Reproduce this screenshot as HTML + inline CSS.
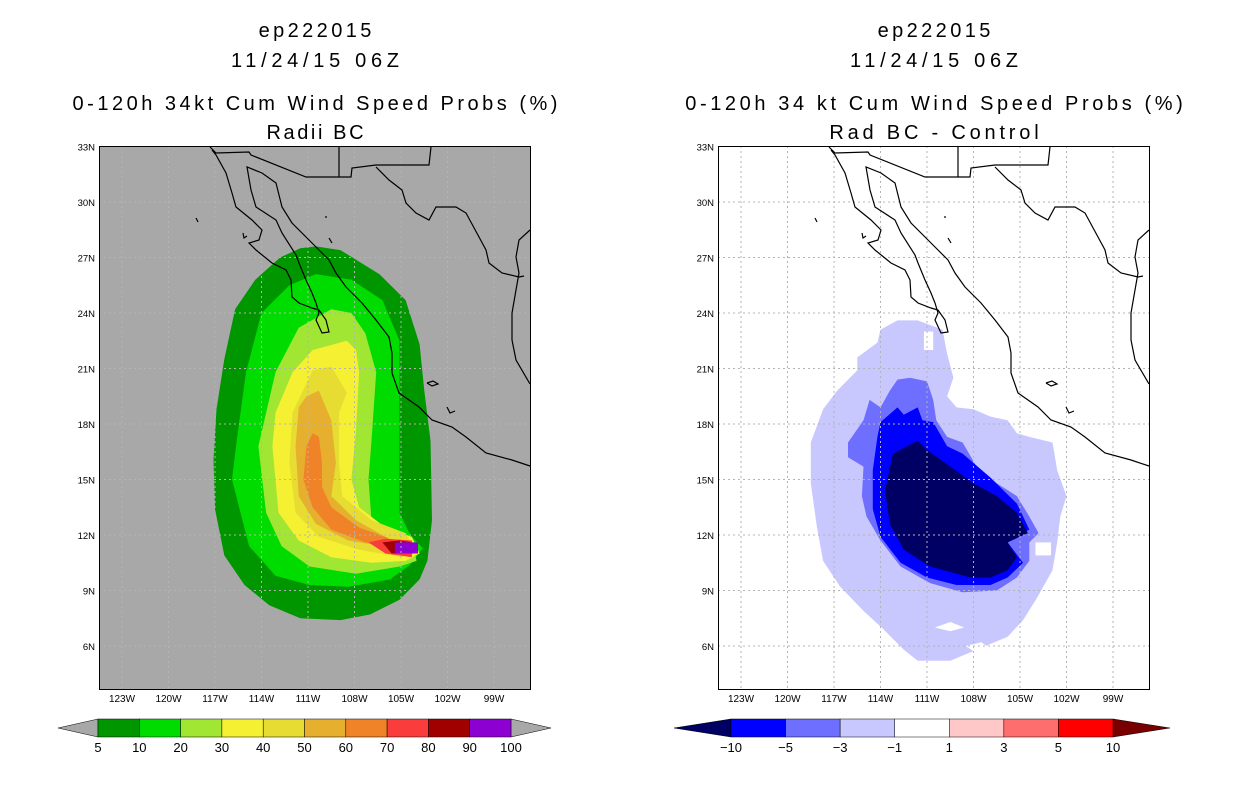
<!DOCTYPE html>
<html><head><meta charset="utf-8"><style>
body{margin:0;background:#fff;}
svg{display:block;font-family:"Liberation Sans",sans-serif;}
</style></head><body>
<svg id="c" width="1236" height="800" viewBox="0 0 1236 800" xmlns="http://www.w3.org/2000/svg"></svg>
<script>
// ---- data (lon in degrees W, lat in degrees N) ----
const lonTicks=[123,120,117,114,111,108,105,102,99];
const latTicks=[33,30,27,24,21,18,15,12,9,6];
const leftLevels=["5","10","20","30","40","50","60","70","80","90","100"];
const leftColors=["#009600","#00dc00","#a0e632","#f5f032","#e6dc32","#e6af2d","#f08228","#fa3c3c","#a00000","#8c00d2"];
const rightLevels=["-10","-5","-3","-1","1","3","5","10"];
const rightColors=["#000064","#0000ff","#6e6eff","#c8c8ff","#ffffff","#ffc8c8","#ff6e6e","#ff0000","#780000"];
const p05=[[110.5,27.6],[108.9,27.4],[106.4,26.1],[104.7,24.7],[103.8,22.3],[103.5,19.8],[103.1,17.1],[103.0,12.8],[103.3,10.6],[103.8,9.6],[105.1,8.5],[107.0,7.7],[108.9,7.4],[111.5,7.5],[113.5,8.2],[115.1,9.3],[116.4,10.9],[117.0,13.4],[117.1,16.1],[116.9,18.8],[116.4,21.5],[115.7,24.2],[114.4,25.8],[112.8,27.0],[111.5,27.5]];
const p10=[[110.5,26.1],[108.2,25.8],[106.2,24.7],[105.1,22.5],[105.1,16.8],[105.1,13.2],[104.4,12.0],[103.6,11.3],[104.4,10.4],[105.7,9.6],[108.4,9.2],[110.9,9.3],[113.1,9.8],[114.8,11.4],[115.9,15.0],[115.6,17.1],[115.0,20.8],[114.0,24.0],[112.2,25.5]];
const p20=[[109.5,24.2],[108.2,24.0],[107.3,22.9],[106.6,20.8],[106.9,17.1],[107.1,15.0],[106.9,12.8],[105.7,12.3],[104.3,11.9],[104.0,10.6],[105.1,10.3],[107.9,9.9],[110.9,10.3],[112.7,11.4],[113.7,13.2],[114.2,16.8],[113.1,20.8],[111.6,23.2]];
const p30=[[108.5,22.5],[107.9,22.0],[107.7,20.8],[107.9,17.7],[108.2,15.0],[107.7,13.5],[106.0,12.4],[104.3,11.9],[103.8,11.0],[104.7,10.6],[106.9,10.5],[109.5,10.8],[111.6,11.7],[112.9,13.2],[113.3,16.8],[113.1,18.6],[112.0,20.8],[110.7,22.0]];
const p40=[[109.5,21.1],[108.5,19.7],[109.0,18.6],[109.0,15.9],[108.8,14.1],[106.9,12.8],[104.7,12.1],[104.3,11.5],[104.9,10.8],[107.7,11.2],[110.3,11.9],[111.8,13.2],[112.2,15.9],[112.0,18.6],[110.7,20.9]];
const p50=[[110.3,19.8],[109.5,18.2],[109.2,15.9],[109.5,14.1],[107.9,12.8],[106.0,11.9],[104.7,11.5],[106.2,11.4],[108.4,11.7],[110.5,12.6],[111.6,14.1],[111.8,16.8],[111.6,18.9],[111.1,19.5]];
const p60=[[110.7,17.5],[110.3,17.3],[110.1,15.9],[110.1,14.6],[109.5,13.5],[107.7,12.4],[106.0,11.9],[105.1,11.4],[107.3,11.6],[109.5,12.3],[110.7,13.5],[111.3,15.0],[111.1,16.8]];
const p70=[[107.1,11.6],[106.0,11.8],[104.3,11.7],[104.3,10.8],[106.0,11.0]];
const p80=[[106.2,11.6],[105.1,11.7],[104.3,11.6],[104.3,11.0],[105.6,11.0]];
const p90=[[105.4,11.6],[103.9,11.6],[103.9,11.0],[105.4,11.0]];
const d1=[[112.9,23.6],[111.6,23.6],[110.0,23.1],[109.7,21.8],[109.3,20.5],[109.7,19.5],[109.1,18.9],[108.0,18.8],[106.9,18.4],[105.8,18.2],[105.2,17.5],[104.4,17.3],[102.9,17.0],[102.6,15.5],[102.0,14.1],[102.4,13.0],[102.6,11.6],[102.9,10.1],[103.9,8.6],[104.8,7.4],[105.8,6.5],[107.8,5.8],[109.5,5.2],[111.6,5.2],[112.5,5.8],[113.8,6.9],[115.1,7.9],[116.6,9.2],[117.7,10.6],[118.1,12.4],[118.5,14.8],[118.5,17.0],[117.7,18.8],[116.8,19.8],[115.5,20.9],[115.5,21.6],[114.2,22.4],[114.0,23.1]];
const d3=[[112.9,20.4],[112.1,20.5],[111.0,20.3],[110.6,19.3],[110.4,18.2],[109.7,17.3],[108.7,17.0],[107.8,15.7],[106.5,14.8],[105.2,14.1],[104.4,13.0],[103.8,12.1],[104.4,11.6],[104.4,10.6],[105.2,9.7],[106.5,9.0],[108.7,8.9],[110.8,9.4],[112.7,10.3],[114.0,11.7],[114.9,13.0],[115.2,14.1],[115.1,15.7],[116.1,16.2],[116.1,17.0],[115.1,18.2],[114.7,19.3],[114.0,18.9],[113.4,19.8]];
const d5=[[114.0,18.1],[112.9,18.9],[112.5,18.5],[111.6,18.9],[111.3,18.2],[110.6,18.1],[109.7,16.8],[108.7,16.4],[106.9,15.1],[105.2,13.7],[104.4,12.3],[105.8,11.6],[104.8,10.5],[105.8,9.7],[106.9,9.3],[109.1,9.3],[111.0,9.7],[112.7,10.5],[114.0,11.9],[114.5,13.4],[114.5,15.5],[114.2,17.3]];
const d10=[[113.2,16.4],[111.6,17.1],[111.0,16.6],[109.5,15.7],[108.0,14.8],[106.5,14.1],[105.2,13.2],[104.5,12.1],[105.8,11.6],[105.2,10.8],[105.8,10.1],[106.9,9.7],[108.2,9.7],[110.8,10.3],[112.5,11.2],[113.4,12.6],[113.7,14.4]];
const holes=[[[104.0,11.6],[103.0,11.6],[103.0,10.9],[104.0,10.9]],[[111.2,23.0],[110.6,23.0],[110.6,22.0],[111.2,22.0]],[[110.5,7.0],[109.5,7.3],[108.6,7.0],[109.5,6.8]],[[108.5,6.0],[107.5,6.2],[106.8,5.8],[107.8,5.6]]];
// coastlines (pixel polylines in left-panel space; shifted for right panel)
const coasts=[
[[212,150],[216,155],[226,173],[232,193],[236,207],[252,220],[262,230],[259,240],[249,243],[256,250],[272,263],[286,270],[291,280],[292,297],[299,303],[312,308],[319,310],[326,320],[329,332],[322,333],[316,320],[319,313],[316,303],[312,293],[306,280],[299,263],[296,255],[282,233],[276,220],[256,207],[251,190],[247,167],[262,173],[276,183],[282,207],[292,223],[309,240],[316,247],[329,260],[336,273],[346,287],[362,303],[376,320],[389,337],[392,353],[392,373],[399,393],[419,407],[432,420],[452,427],[466,437],[486,453],[512,460],[530,466]],
[[530,230],[519,240],[516,257],[519,273],[516,290],[512,313],[512,340],[516,360],[530,384]],
[[376,167],[389,180],[402,190],[406,203],[416,213],[429,220],[436,207],[456,207],[466,213],[479,237],[486,250],[489,263],[502,273],[519,277],[524,276]],
[[210,147],[216,153],[249,152],[251,155],[306,177],[351,177],[352,168],[376,165],[429,165],[431,147]],
[[339,147],[339,177]],
[[427,383],[433,381],[438,384],[432,386],[427,383]],
[[447,407],[450,413],[455,411]],[[196,218],[198,222]],[[243,233],[244,238],[247,236]],[[329,238],[332,243]],[[325,217],[327,217]]];

const NS="http://www.w3.org/2000/svg";
const svg=document.getElementById('c');
function el(tag,attrs,parent){const e=document.createElementNS(NS,tag);for(const k in attrs)e.setAttribute(k,attrs[k]);(parent||svg).appendChild(e);return e;}
const X0=99,X1=531,Y0=146,Y1=690;
function lonX(lon,off){return 308-(lon-111)*15.5+off;}
function latY(lat){return 313-(lat-24)*18.5;}
function poly(pts,off){return pts.map(p=>lonX(p[0],off).toFixed(1)+","+latY(p[1]).toFixed(1)).join(" ");}

function panel(off,bg,title3,title4,key,spacing){
  const g=el('g',{});
  
  
  const cx=(X0+X1)/2+off;
  const titles=["ep222015","11/24/15 06Z",title3,title4];
  const ty=[37,67,110,139];
  titles.forEach((t,i)=>{
    const tx=el('text',{x:cx+spacing[i]/2,y:ty[i],'text-anchor':'middle','font-size':20,'letter-spacing':spacing[i],fill:'#000'},g);
    tx.textContent=t;
    
    
  });
  const clipId='clip'+key;
  const cp=el('clipPath',{id:clipId},g);
  el('rect',{x:X0+off,y:Y0,width:X1-X0,height:Y1-Y0},cp);
  const map=el('g',{'clip-path':'url(#'+clipId+')'},g);
  
  
  const bgR=el('rect',{x:X0+off,y:Y0,width:X1-X0,height:Y1-Y0,fill:bg},map);
  
  
  return {g,map,cx};
}
function gridAndAxes(p,off,key){
  lonTicks.forEach(l=>{const x=lonX(l,off);
    const ln=el('line',{x1:x,y1:Y0,x2:x,y2:Y1,stroke:'#b4b4b4','stroke-width':1,'stroke-dasharray':'2,3'},p.map);
    
    
    const t=el('text',{x:x,y:702,'text-anchor':'middle','font-size':10,fill:'#000'},p.g);
    t.textContent=l+"W";
    
    
  });
  latTicks.forEach(l=>{const y=latY(l);
    if(l<33){const ln=el('line',{x1:X0+off,y1:y,x2:X1+off,y2:y,stroke:'#b4b4b4','stroke-width':1,'stroke-dasharray':'2,3'},p.map);
    
    }
    const t=el('text',{x:X0+off-4,y:y+4,'text-anchor':'end','font-size':9.5,fill:'#000'},p.g);
    t.textContent=l+"N";
    
    
  });
  coasts.forEach(c=>{
    const pl=el('polyline',{points:c.map(q=>(q[0]+off)+","+q[1]).join(" "),fill:'none',stroke:'#000','stroke-width':1.2},p.map);
    
    
  });
  const fr=el('rect',{x:X0+off+0.5,y:Y0+0.5,width:X1-X0-1,height:Y1-Y0-1,fill:'none',stroke:'#000','stroke-width':1},p.g);
  
  
}
function colorbar(x0,x1,tip,levels,colors,gray,key){
  const g=el('g',{});
  
  
  const y0=719,y1=737,ym=728;
  const nb=levels.length-1;
  const w=(x1-x0)/nb;
  const lc=gray?'#a8a8a8':colors[0], rc=gray?'#a8a8a8':colors[colors.length-1];
  const off=gray?0:1;
  const lt=el('polygon',{points:`${x0-tip},${ym} ${x0},${y0} ${x0},${y1}`,fill:lc,stroke:'#000','stroke-width':0.5},g);
  
  
  const rt=el('polygon',{points:`${x1+tip},${ym} ${x1},${y0} ${x1},${y1}`,fill:rc,stroke:'#000','stroke-width':0.5},g);
  
  
  for(let i=0;i<nb;i++){
    const r=el('rect',{x:x0+i*w,y:y0,width:w,height:y1-y0,fill:colors[i+off],stroke:'#000','stroke-width':0.5},g);
    
    
  }
  levels.forEach((l,i)=>{
    const t=el('text',{x:x0+i*w,y:752,'text-anchor':'middle','font-size':13,fill:'#000'},g);
    t.textContent=l.replace('-','\u2212');
    
    
  });
}

// Left panel
const L=panel(0,'#a8a8a8',"0-120h 34kt Cum Wind Speed Probs (%)","Radii BC","left",[3.4,4.7,3.5,2.6]);
[p05,p10,p20,p30,p40,p50,p60,p70,p80,p90].forEach((pts,i)=>{
  const pg=el('polygon',{points:poly(pts,0),fill:leftColors[i]},L.map);
  
  
});
gridAndAxes(L,0,'left');
colorbar(98,511,40,leftLevels,leftColors,true,'left');

// Right panel
const ROFF=619;
const R=panel(ROFF,'#ffffff',"0-120h 34 kt Cum Wind Speed Probs (%)","Rad BC - Control","right",[3.4,4.7,3.6,3.8]);
[[d1,3],[d3,2],[d5,1],[d10,0]].forEach(([pts,ci])=>{
  const pg=el('polygon',{points:poly(pts,ROFF),fill:rightColors[ci]},R.map);
  
  
});
holes.forEach(h=>{
  const pg=el('polygon',{points:poly(h,ROFF),fill:'#ffffff'},R.map);
  
  
});
gridAndAxes(R,ROFF,'right');
colorbar(731,1113,57,rightLevels,rightColors,false,'right');
</script>
</body></html>
